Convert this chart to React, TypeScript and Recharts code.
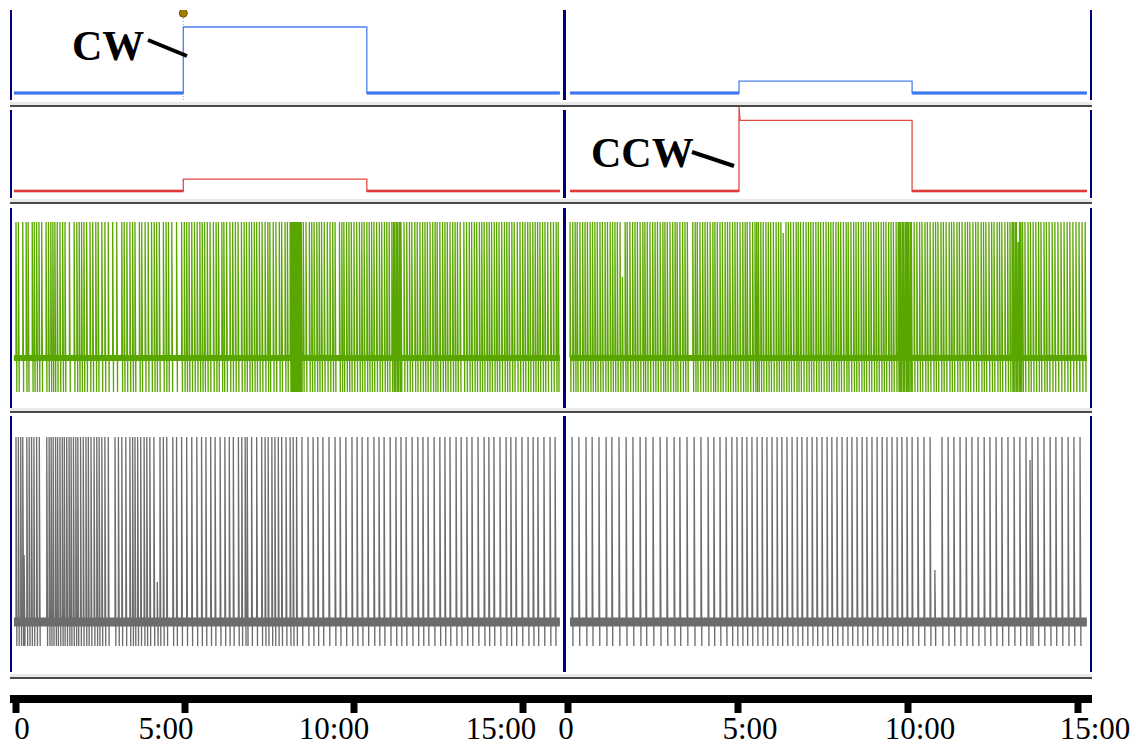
import React from 'react';
import { LineChart, Line, XAxis, YAxis, ReferenceLine, ReferenceDot } from 'recharts';

// time axis (minutes)
const timeTicks = [0, 5, 10, 15];
const tickLabels = ['0', '5:00', '10:00', '15:00'];

// stimulus steps: trace start, step on, step off, trace end (min)
const cwTimes = [-0.06, 4.95, 10.38, 16.09];
const ccwTimes = [0.06, 5.03, 10.12, 15.26];
const blueLevels = [100, 18]; // CW half, CCW half
const redLevels = [17, 101];
const redOvershoot = 120;
const markerLevel = 121;

// spike times (min)
const greenLeftSpikes = [
  0.0, 0.07, 0.2, 0.3, 0.36, 0.48, 0.54, 0.61, 0.68, 0.76, 0.89, 0.96, 1.03, 1.09, 1.15, 1.22, 1.3, 1.38, 1.45, 1.58,
  1.72, 1.8, 1.87, 1.94, 2.01, 2.09, 2.19, 2.27, 2.36, 2.43, 2.54, 2.63, 2.73, 2.86, 2.98, 3.13, 3.2, 3.28, 3.37, 3.45,
  3.52, 3.65, 3.72, 3.82, 3.91, 4.01, 4.09, 4.16, 4.24, 4.36, 4.44, 4.51, 4.61, 4.75, 4.9, 4.98, 5.05, 5.12, 5.2, 5.28,
  5.36, 5.44, 5.51, 5.58, 5.66, 5.74, 5.84, 5.92, 5.99, 6.09, 6.15, 6.23, 6.33, 6.41, 6.49, 6.57, 6.67, 6.75, 6.82, 6.9,
  6.97, 7.05, 7.12, 7.2, 7.28, 7.37, 7.45, 7.51, 7.61, 7.69, 7.79, 7.86, 7.96, 8.03, 8.11, 8.14, 8.17, 8.2, 8.23, 8.26,
  8.29, 8.32, 8.35, 8.38, 8.41, 8.44, 8.5, 8.58, 8.68, 8.75, 8.82, 8.9, 8.97, 9.04, 9.12, 9.21, 9.29, 9.37, 9.44, 9.57,
  9.64, 9.7, 9.78, 9.85, 9.92, 10.0, 10.08, 10.16, 10.23, 10.3, 10.38, 10.45, 10.52, 10.59, 10.67, 10.75, 10.82, 10.9,
  10.97, 11.04, 11.12, 11.17, 11.21, 11.26, 11.3, 11.35, 11.39, 11.48, 11.56, 11.64, 11.71, 11.8, 11.87, 11.95, 12.03,
  12.1, 12.17, 12.25, 12.33, 12.4, 12.46, 12.54, 12.62, 12.69, 12.76, 12.84, 12.92, 12.99, 13.06, 13.14, 13.25, 13.33,
  13.41, 13.48, 13.56, 13.63, 13.71, 13.78, 13.85, 13.93, 14.0, 14.07, 14.15, 14.22, 14.29, 14.37, 14.45, 14.52, 14.59,
  14.67, 14.74, 14.83, 14.91, 14.99, 15.06, 15.14, 15.21, 15.29, 15.36, 15.43, 15.5, 15.58, 15.65, 15.73, 15.82, 15.9,
  15.98, 16.04,
];
const greenLeftShort: [number, number][] = [];

const greenRightSpikes = [
  0.06, 0.14, 0.21, 0.27, 0.35, 0.43, 0.5, 0.57, 0.65, 0.72, 0.79, 0.86, 0.94, 1.01, 1.09, 1.16, 1.24, 1.31, 1.38, 1.45,
  1.53, 1.68, 1.74, 1.82, 1.9, 1.97, 2.04, 2.12, 2.2, 2.26, 2.33, 2.41, 2.49, 2.56, 2.63, 2.71, 2.79, 2.85, 2.92, 3.0,
  3.08, 3.15, 3.21, 3.29, 3.37, 3.44, 3.51, 3.67, 3.74, 3.8, 3.88, 3.96, 4.03, 4.1, 4.18, 4.26, 4.32, 4.39, 4.47, 4.54,
  4.62, 4.69, 4.76, 4.84, 4.91, 4.98, 5.06, 5.14, 5.21, 5.27, 5.35, 5.43, 5.5, 5.55, 5.6, 5.67, 5.74, 5.82, 5.89, 5.96,
  6.04, 6.12, 6.19, 6.26, 6.41, 6.48, 6.55, 6.63, 6.71, 6.77, 6.84, 6.92, 7.0, 7.07, 7.14, 7.21, 7.29, 7.36, 7.43, 7.51,
  7.59, 7.66, 7.73, 7.8, 7.88, 7.95, 8.02, 8.1, 8.18, 8.24, 8.32, 8.4, 8.47, 8.54, 8.62, 8.69, 8.76, 8.84, 8.91, 8.99,
  9.06, 9.13, 9.21, 9.28, 9.35, 9.43, 9.5, 9.57, 9.65, 9.71, 9.75, 9.79, 9.84, 9.88, 9.93, 9.97, 10.01, 10.06, 10.1,
  10.18, 10.26, 10.34, 10.41, 10.5, 10.57, 10.65, 10.74, 10.81, 10.88, 10.97, 11.04, 11.12, 11.21, 11.28, 11.35, 11.44,
  11.51, 11.59, 11.68, 11.75, 11.82, 11.91, 11.99, 12.06, 12.15, 12.22, 12.29, 12.38, 12.46, 12.53, 12.62, 12.69, 12.76,
  12.85, 12.93, 13.0, 13.06, 13.1, 13.15, 13.19, 13.28, 13.32, 13.37, 13.44, 13.53, 13.6, 13.68, 13.76, 13.84, 13.91,
  14.0, 14.07, 14.15, 14.24, 14.32, 14.41, 14.5, 14.59, 14.68, 14.76, 14.85, 14.94, 15.03, 15.12, 15.21,
];
const greenRightShort: [number, number][] = [[1.6, 81], [6.33, 125], [13.24, 116]];

const grayLeftSpikes = [
  0.0, 0.07, 0.14, 0.2, 0.32, 0.39, 0.46, 0.53, 0.61, 0.69, 0.91, 0.98, 1.04, 1.1, 1.17, 1.23, 1.3, 1.37, 1.43, 1.5,
  1.57, 1.63, 1.7, 1.77, 1.83, 1.91, 1.99, 2.07, 2.14, 2.22, 2.31, 2.39, 2.46, 2.54, 2.63, 2.73, 2.93, 3.03, 3.13, 3.25,
  3.37, 3.45, 3.52, 3.6, 3.69, 3.79, 3.87, 3.96, 4.08, 4.26, 4.36, 4.46, 4.64, 4.75, 4.9, 5.05, 5.2, 5.35, 5.49, 5.62,
  5.76, 5.89, 6.04, 6.18, 6.31, 6.43, 6.58, 6.68, 6.78, 6.84, 6.97, 7.12, 7.27, 7.37, 7.46, 7.57, 7.66, 7.76, 7.86, 7.99,
  8.11, 8.2, 8.3, 8.46, 8.64, 8.79, 8.93, 9.08, 9.26, 9.44, 9.59, 9.76, 9.94, 10.09, 10.24, 10.41, 10.59, 10.74, 10.89,
  11.07, 11.24, 11.39, 11.54, 11.72, 11.89, 12.04, 12.19, 12.37, 12.54, 12.69, 12.84, 13.02, 13.17, 13.34, 13.49, 13.67,
  13.85, 13.99, 14.14, 14.32, 14.5, 14.64, 14.79, 14.97, 15.15, 15.3, 15.44, 15.62, 15.8, 15.95,
];
const grayLeftShort: [number, number][] = [[0.24, 67], [4.18, 40]];

const grayRightSpikes = [
  0.12, 0.32, 0.53, 0.71, 0.91, 1.12, 1.29, 1.5, 1.71, 1.91, 2.12, 2.29, 2.5, 2.71, 2.91, 3.12, 3.29, 3.5, 3.71, 3.91,
  4.12, 4.29, 4.47, 4.65, 4.82, 4.97, 5.12, 5.26, 5.41, 5.56, 5.71, 5.85, 6.0, 6.15, 6.29, 6.44, 6.59, 6.74, 6.88, 7.03,
  7.18, 7.32, 7.47, 7.62, 7.76, 7.91, 8.06, 8.21, 8.35, 8.5, 8.65, 8.79, 8.94, 9.09, 9.24, 9.38, 9.53, 9.68, 9.82, 9.97,
  10.12, 10.29, 10.47, 10.65, 11.0, 11.18, 11.35, 11.53, 11.71, 11.88, 12.06, 12.24, 12.41, 12.59, 12.76, 12.94, 13.12,
  13.29, 13.47, 13.65, 13.82, 14.0, 14.18, 14.35, 14.53, 14.71, 14.88, 15.06,
];
const grayRightShort: [number, number][] = [[10.79, 52], [13.59, 162]];

const leftDomain: [number, number] = [-0.118, 16.154];
const rightDomain: [number, number] = [-0.059, 15.353];

type Row = { t: number; v: number; rest?: number | null; band?: number | null };

function stepRows(times: number[], level: number, overshoot?: number): Row[] {
  const [start, on, off, end] = times;
  const rows: Row[] = [
    { t: start, v: 0, rest: 0 },
    { t: on, v: 0, rest: 0 },
    { t: on, v: overshoot ?? level, rest: null },
  ];
  if (overshoot) rows.push({ t: on + 0.03, v: level, rest: null });
  rows.push({ t: off, v: level, rest: null }, { t: off, v: 0, rest: 0 }, { t: end, v: 0, rest: 0 });
  return rows;
}

function spikeRows(times: number[], shorts: [number, number][], peak: number, trough: number, span: number[]): Row[] {
  const events: [number, number][] = [...times.map((t) => [t, peak] as [number, number]), ...shorts].sort(
    (a, b) => a[0] - b[0]
  );
  const rows: Row[] = [{ t: span[0], v: 0, band: 0 }];
  events.forEach(([t, p]) => {
    rows.push({ t, v: 0 }, { t, v: p }, { t: t + 0.025, v: trough }, { t: t + 0.025, v: 0 });
  });
  rows.push({ t: span[1], v: 0, band: 0 });
  return rows;
}

const NAVY = '#00007a';

function Panel({ left, top, width, height, xDomain, yDomain, rows, children }: any) {
  return (
    <div style={{ position: 'absolute', left, top }}>
      <LineChart width={width} height={height} data={rows} margin={{ top: 0, right: 0, bottom: 0, left: 0 }}>
        <XAxis type="number" dataKey="t" domain={xDomain} hide allowDataOverflow />
        <YAxis type="number" domain={yDomain} hide allowDataOverflow />
        {children}
      </LineChart>
    </div>
  );
}

function AxisLabel({ x, payload, shifts }: any) {
  const i = timeTicks.indexOf(payload.value);
  return (
    <text x={x + shifts[i]} y={50} textAnchor="middle" fontFamily="'Liberation Serif', serif" fontSize={31} fill="#000">
      {tickLabels[i]}
    </text>
  );
}

// the axis plot spans [left + padLeft, left + padLeft + span]; the padding keeps end labels inside the svg
function TimeAxis({ left, span, padLeft, padRight, domain, shifts }: any) {
  return (
    <div style={{ position: 'absolute', left, top: 689 }}>
      <LineChart
        width={span + padLeft + padRight}
        height={58}
        data={timeTicks.map((t) => ({ t }))}
        margin={{ top: 0, right: padRight, bottom: 0, left: padLeft }}
      >
        <XAxis
          type="number"
          dataKey="t"
          domain={domain}
          ticks={timeTicks}
          interval={0}
          allowDataOverflow
          height={48}
          tickSize={14}
          axisLine={{ stroke: '#000', strokeWidth: 8 }}
          tickLine={{ stroke: '#000', strokeWidth: 7 }}
          tick={(p: any) => <AxisLabel {...p} shifts={shifts} />}
        />
        <YAxis hide domain={[0, 1]} />
      </LineChart>
    </div>
  );
}

const blueDomain = [-10.6, 125.8];
const redDomain = [-12.9, 122.9];
const greenDomain = [-50, 151];
const grayDomain = [-50, 209];

const panels = [
  { top: 10, height: 90, frameTop: 10, frameBottom: 100 },
  { top: 105, height: 95, frameTop: 110, frameBottom: 198 },
  { top: 207, height: 201, frameTop: 208, frameBottom: 408 },
  { top: 413, height: 259, frameTop: 416, frameBottom: 672 },
];
const separators = [105, 202, 411, 677];

export default function App() {
  const blueL = stepRows(cwTimes, blueLevels[0]);
  const blueR = stepRows(ccwTimes, blueLevels[1]);
  const redL = stepRows(cwTimes, redLevels[0]);
  const redR = stepRows(ccwTimes, redLevels[1], redOvershoot);
  const greenL = spikeRows(greenLeftSpikes, greenLeftShort, 136, -34, [cwTimes[0], cwTimes[3]]);
  const greenR = spikeRows(greenRightSpikes, greenRightShort, 136, -34, [ccwTimes[0], ccwTimes[3]]);
  const grayL = spikeRows(grayLeftSpikes, grayLeftShort, 185, -24, [cwTimes[0], cwTimes[3]]);
  const grayR = spikeRows(grayRightSpikes, grayRightShort, 185, -24, [ccwTimes[0], ccwTimes[3]]);

  const stepLines = (color: string, restColor: string, restWidth: number) => [
    <Line key="rest" dataKey="rest" stroke={restColor} strokeWidth={restWidth} dot={false} isAnimationActive={false} />,
    <Line key="v" dataKey="v" stroke={color} strokeWidth={1.3} dot={false} isAnimationActive={false} />,
  ];
  const spikeLines = (color: string, band: number) => [
    <Line key="band" dataKey="band" connectNulls stroke={color} strokeWidth={band} dot={false} isAnimationActive={false} />,
    <Line key="v" dataKey="v" stroke={color} strokeWidth={1.3} dot={false} isAnimationActive={false} />,
  ];

  return (
    <div style={{ position: 'absolute', left: 0, top: 0, width: 1136, height: 747, background: '#fff', overflow: 'hidden' }}>
      {separators.map((y) => (
        <React.Fragment key={y}>
          <div style={{ position: 'absolute', left: 10, top: y - 3, width: 1082, height: 3, background: '#e9e9e9' }} />
          <div style={{ position: 'absolute', left: 10, top: y, width: 1082, height: 2, background: '#4a4a4a' }} />
        </React.Fragment>
      ))}
      {panels.map((p) => (
        <React.Fragment key={p.top}>
          <div style={{ position: 'absolute', left: 10, top: p.frameTop, width: 2, height: p.frameBottom - p.frameTop, background: NAVY }} />
          <div style={{ position: 'absolute', left: 563, top: p.frameTop, width: 3, height: p.frameBottom - p.frameTop, background: NAVY }} />
          <div style={{ position: 'absolute', left: 1090, top: p.frameTop, width: 2, height: p.frameBottom - p.frameTop, background: NAVY }} />
        </React.Fragment>
      ))}

      <Panel left={12} top={10} width={550} height={90} xDomain={leftDomain} yDomain={blueDomain} rows={blueL}>
        <ReferenceLine x={cwTimes[1]} stroke="#7ea6f5" strokeDasharray="1 2" strokeWidth={1} />
        {stepLines('#4a82f5', '#1a5be6', 3)}
        <ReferenceDot x={cwTimes[1]} y={markerLevel} r={4} fill="#a57c00" stroke="#6d5200" strokeWidth={1} />
      </Panel>
      <Panel left={566} top={10} width={524} height={90} xDomain={rightDomain} yDomain={blueDomain} rows={blueR}>
        {stepLines('#4a82f5', '#1a5be6', 3)}
      </Panel>

      <Panel left={12} top={105} width={550} height={95} xDomain={leftDomain} yDomain={redDomain} rows={redL}>
        {stepLines('#e24a45', '#d01010', 2.6)}
      </Panel>
      <Panel left={566} top={105} width={524} height={95} xDomain={rightDomain} yDomain={redDomain} rows={redR}>
        {stepLines('#e24a45', '#d01010', 2.6)}
      </Panel>

      <Panel left={12} top={207} width={550} height={201} xDomain={leftDomain} yDomain={greenDomain} rows={greenL}>
        {spikeLines('#5aa600', 6)}
      </Panel>
      <Panel left={566} top={207} width={524} height={201} xDomain={rightDomain} yDomain={greenDomain} rows={greenR}>
        {spikeLines('#5aa600', 6)}
      </Panel>

      <Panel left={12} top={413} width={550} height={259} xDomain={leftDomain} yDomain={grayDomain} rows={grayL}>
        {spikeLines('#6c6c6c', 9)}
      </Panel>
      <Panel left={566} top={413} width={524} height={259} xDomain={rightDomain} yDomain={grayDomain} rows={grayR}>
        {spikeLines('#6c6c6c', 9)}
      </Panel>

      <TimeAxis left={0} span={554} padLeft={10} padRight={30} domain={[-0.1775, 16.213]} shifts={[6, -19, -20, -22]} />
      <TimeAxis left={540} span={528} padLeft={24} padRight={44} domain={[-0.1176, 15.412]} shifts={[-2, 12, 12, 17]} />

      <svg width={1136} height={747} style={{ position: 'absolute', left: 0, top: 0, pointerEvents: 'none' }}>
        <text x={72} y={60} fontFamily="'Liberation Serif', serif" fontWeight="bold" fontSize={42} fill="#000">
          CW
        </text>
        <line x1={148} y1={40} x2={187} y2={56} stroke="#000" strokeWidth={4} />
        <text x={591} y={167} fontFamily="'Liberation Serif', serif" fontWeight="bold" fontSize={42} fill="#000">
          CCW
        </text>
        <line x1={692} y1={152} x2={734} y2={166} stroke="#000" strokeWidth={4} />
      </svg>
    </div>
  );
}
